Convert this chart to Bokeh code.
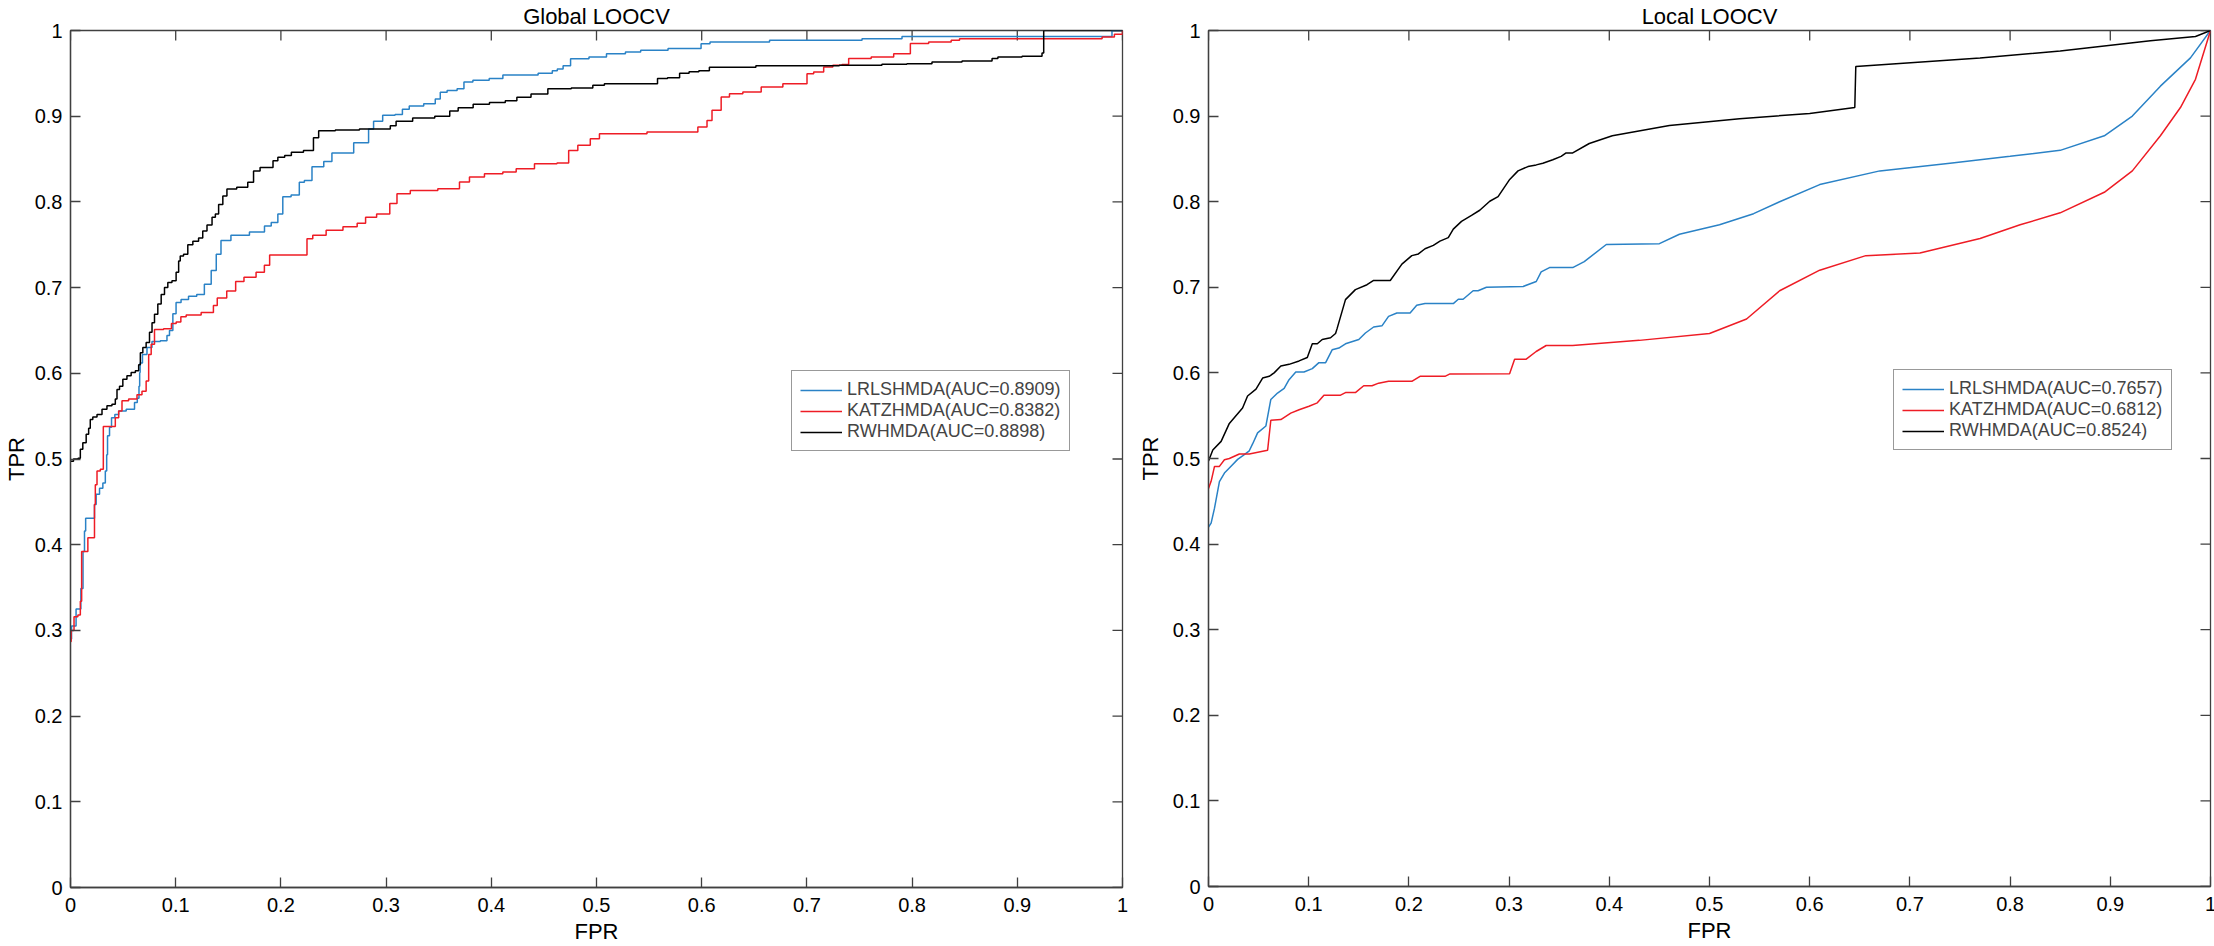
from bokeh.plotting import figure
from bokeh.models import Range1d, LinearAxis, FixedTicker, Legend, LegendItem
from bokeh.layouts import row
from bokeh.embed import file_html
from bokeh.resources import INLINE

# ---------------- data ----------------
TICKS = [0, 0.1, 0.2, 0.3, 0.4, 0.5, 0.6, 0.7, 0.8, 0.9, 1]
TICK_LABELS = ["0", "0.1", "0.2", "0.3", "0.4", "0.5", "0.6", "0.7", "0.8", "0.9", "1"]
TITLES = ["Global LOOCV", "Local LOOCV"]
X_LABEL = "FPR"
Y_LABEL = "TPR"
METHODS = ["LRLSHMDA", "KATZHMDA", "RWHMDA"]
GLOBAL_AUC = ["0.8909", "0.8382", "0.8898"]
LOCAL_AUC = ["0.7657", "0.6812", "0.8524"]

# Global LOOCV
g_lrls_fpr = [0, 0.002, 0.0086, 0.0111, 0.0127, 0.0139, 0.0149, 0.0228, 0.0228, 0.026, 0.0292, 0.0323, 0.0339, 0.0349,
              0.0355, 0.0387, 0.0393, 0.045, 0.0466, 0.0593, 0.0624, 0.0646, 0.0656, 0.0659, 0.0665, 0.0703, 0.0751,
              0.0798, 0.0909, 0.0925, 0.0957, 0.0989, 0.1018, 0.1084, 0.116, 0.124, 0.1305, 0.137, 0.1401, 0.146,
              0.159, 0.1812, 0.1876, 0.194, 0.2002, 0.2034, 0.216, 0.219, 0.2256, 0.2335, 0.248, 0.249, 0.2684,
              0.270, 0.281, 0.2857, 0.2905, 0.303, 0.314, 0.317, 0.327, 0.3445, 0.349, 0.354, 0.362, 0.373, 0.375,
              0.390, 0.406, 0.416, 0.432, 0.457, 0.459, 0.4665, 0.470, 0.4807, 0.505, 0.514, 0.541, 0.543, 0.593,
              0.6058, 0.610, 0.663, 0.666, 0.7516, 0.7532, 0.7896, 0.7912, 0.98, 1.0]
g_lrls_tpr = [0.29, 0.305, 0.325, 0.349, 0.392, 0.416, 0.431, 0.431, 0.447, 0.459, 0.466, 0.472, 0.486, 0.505,
              0.527, 0.537, 0.548, 0.552, 0.556, 0.558, 0.566, 0.571, 0.585, 0.601, 0.612, 0.622, 0.630,
              0.637, 0.638, 0.644, 0.650, 0.6695, 0.6825, 0.686, 0.690, 0.692, 0.704, 0.720, 0.739, 0.755,
              0.761, 0.765, 0.772, 0.776, 0.786, 0.806, 0.808, 0.823, 0.825, 0.841, 0.847, 0.857, 0.857,
              0.869, 0.869, 0.885, 0.894, 0.901, 0.902, 0.908, 0.912, 0.9145, 0.920, 0.928, 0.930, 0.932, 0.940,
              0.942, 0.944, 0.948, 0.948, 0.950, 0.953, 0.955, 0.959, 0.967, 0.969, 0.973, 0.975, 0.977, 0.979,
              0.9845, 0.9865, 0.9865, 0.9885, 0.9885, 0.9905, 0.9905, 0.993, 0.993, 1.0]

g_katz_fpr = [0, 0.0013, 0.0054, 0.0086, 0.0101, 0.0111, 0.0165, 0.0165, 0.0228, 0.0228, 0.0244, 0.026, 0.0307,
              0.0317, 0.0418, 0.0434, 0.0482, 0.0497, 0.0608, 0.0656, 0.0703, 0.0735, 0.0751, 0.0783, 0.0814,
              0.0956, 0.0963, 0.1046, 0.1052, 0.1147, 0.1337, 0.138, 0.141, 0.156, 0.158, 0.1718, 0.181, 0.1876,
              0.191, 0.2240, 0.2256, 0.235, 0.2510, 0.267, 0.278, 0.283, 0.299, 0.308, 0.3127, 0.3333, 0.365,
              0.3745, 0.384, 0.403, 0.4189, 0.4284, 0.4537, 0.4712, 0.4759, 0.4886, 0.4996, 0.506, 0.590, 0.6027,
              0.6074, 0.6122, 0.6248, 0.628, 0.6502, 0.6629, 0.6914, 0.6977, 0.7025, 0.7104, 0.7215, 0.7278,
              0.7389, 0.7405, 0.7817, 0.7833, 0.796, 0.8007, 0.8308, 0.8435, 0.8467, 0.9766, 0.9846, 1.0, 1.0]
g_katz_tpr = [0.287, 0.300, 0.316, 0.318, 0.334, 0.392, 0.392, 0.408, 0.408, 0.447, 0.470, 0.486, 0.488,
              0.538, 0.538, 0.548, 0.556, 0.568, 0.570, 0.575, 0.579, 0.591, 0.622, 0.634, 0.651,
              0.652, 0.658, 0.660, 0.666, 0.668, 0.671, 0.679, 0.688, 0.696, 0.707, 0.712, 0.718, 0.726,
              0.738, 0.738, 0.757, 0.761, 0.767, 0.771, 0.775, 0.782, 0.786, 0.798, 0.8095, 0.8134, 0.8153,
              0.8231, 0.829, 0.8328, 0.8348, 0.8387, 0.8445, 0.8453, 0.8601, 0.866, 0.8737, 0.8796, 0.8815, 0.8873,
              0.8951, 0.9068, 0.9223, 0.9262, 0.9282, 0.934, 0.9379, 0.938, 0.9496, 0.9516, 0.9574, 0.9594,
              0.9602, 0.9672, 0.9691, 0.973, 0.973, 0.9847, 0.9866, 0.9886, 0.9905, 0.9905, 0.9925, 0.9956, 1.0]

g_rw_fpr = [0, 0.0057, 0.0086, 0.0101, 0.0133, 0.0165, 0.018, 0.0196, 0.0228, 0.0276, 0.0323, 0.037, 0.0418,
            0.0434, 0.045, 0.0482, 0.0513, 0.056, 0.0593, 0.064, 0.0656, 0.0672, 0.0703, 0.0735, 0.0767, 0.0783,
            0.0814, 0.0846, 0.0878, 0.0909, 0.0941, 0.0988, 0.102, 0.1036, 0.105, 0.1099, 0.1131, 0.1195, 0.124,
            0.1274, 0.1321, 0.137, 0.1384, 0.1432, 0.1464, 0.151, 0.165, 0.172, 0.176, 0.1844, 0.191, 0.194,
            0.2002, 0.207, 0.2129, 0.2300, 0.2319, 0.2399, 0.2636, 0.2857, 0.303, 0.305, 0.314, 0.3365, 0.356,
            0.365, 0.372, 0.3935, 0.403, 0.4236, 0.425, 0.4505, 0.457, 0.495, 0.498, 0.517, 0.555, 0.561, 0.574,
            0.584, 0.592, 0.6026, 0.612, 0.691, 0.7706, 0.772, 0.8181, 0.8197, 0.8752, 0.8768, 0.8863, 0.9227,
            0.9243, 0.9259, 1.0]
g_rw_tpr = [0.4975, 0.500, 0.501, 0.5113, 0.519, 0.529, 0.536, 0.546, 0.549, 0.552, 0.558, 0.562, 0.564,
            0.570, 0.581, 0.585, 0.593, 0.597, 0.601, 0.603, 0.610, 0.624, 0.630, 0.636, 0.648, 0.659,
            0.669, 0.681, 0.692, 0.700, 0.706, 0.708, 0.718, 0.731, 0.737, 0.739, 0.750, 0.754, 0.758,
            0.766, 0.773, 0.782, 0.786, 0.797, 0.807, 0.815, 0.817, 0.823, 0.836, 0.840, 0.840, 0.848,
            0.852, 0.854, 0.858, 0.860, 0.875, 0.883, 0.884, 0.885, 0.885, 0.889, 0.894, 0.898, 0.900,
            0.906, 0.910, 0.914, 0.916, 0.918, 0.922, 0.926, 0.932, 0.933, 0.936, 0.938, 0.938, 0.944, 0.945,
            0.950, 0.952, 0.953, 0.957, 0.959, 0.9594, 0.9606, 0.9613, 0.9633, 0.9645, 0.9672, 0.9691, 0.9699,
            0.9738, 1.0, 1.0]

# Local LOOCV
l_lrls_fpr = [0, 0.0026, 0.006, 0.0109, 0.0159, 0.0225, 0.0291, 0.034, 0.0407, 0.044, 0.049, 0.0573, 0.0622,
              0.0689, 0.0755, 0.0804, 0.0871, 0.0953, 0.1036, 0.1102, 0.1169, 0.1234, 0.1301, 0.1367, 0.150,
              0.1566, 0.1648, 0.1731, 0.1797, 0.188, 0.2012, 0.2078, 0.2161, 0.2443, 0.2493, 0.2541, 0.2641,
              0.269, 0.2774, 0.314, 0.3271, 0.332, 0.3403, 0.3635, 0.375, 0.397, 0.45, 0.47, 0.51, 0.544,
              0.57, 0.61, 0.67, 0.74, 0.80, 0.85, 0.894, 0.922, 0.95, 0.98, 1.0]
l_lrls_tpr = [0.42, 0.4246, 0.442, 0.473, 0.483, 0.491, 0.499, 0.503, 0.509, 0.517, 0.530, 0.538, 0.569,
              0.5765, 0.582, 0.592, 0.601, 0.601, 0.605, 0.612, 0.612, 0.627, 0.629, 0.634, 0.639,
              0.6466, 0.6536, 0.655, 0.666, 0.670, 0.670, 0.679, 0.681, 0.681, 0.686, 0.686, 0.696,
              0.696, 0.700, 0.701, 0.7068, 0.718, 0.723, 0.723, 0.730, 0.750, 0.751, 0.762, 0.773, 0.786,
              0.800, 0.820, 0.836, 0.845, 0.853, 0.860, 0.877, 0.900, 0.935, 0.968, 1.0]

l_katz_fpr = [0, 0.0026, 0.006, 0.0109, 0.0159, 0.0208, 0.0308, 0.0407, 0.059, 0.0622, 0.0722, 0.0821, 0.0904,
              0.1003, 0.1086, 0.1152, 0.1318, 0.1367, 0.1466, 0.1549, 0.1632, 0.1698, 0.1797, 0.2029, 0.2111,
              0.236, 0.241, 0.3005, 0.3055, 0.3171, 0.327, 0.337, 0.3634, 0.43, 0.50, 0.537, 0.57, 0.61, 0.656,
              0.71, 0.77, 0.81, 0.85, 0.894, 0.922, 0.95, 0.97, 0.985, 1.0]
l_katz_tpr = [0.465, 0.4733, 0.4908, 0.4908, 0.4986, 0.500, 0.5053, 0.5053, 0.5096, 0.5447, 0.5455, 0.553, 0.557,
              0.561, 0.565, 0.574, 0.574, 0.577, 0.577, 0.585, 0.585, 0.588, 0.5902, 0.5902, 0.596,
              0.596, 0.5988, 0.599, 0.616, 0.616, 0.625, 0.632, 0.632, 0.638, 0.646, 0.663, 0.696, 0.720, 0.737,
              0.740, 0.757, 0.773, 0.787, 0.811, 0.836, 0.877, 0.910, 0.943, 1.0]

l_rw_fpr = [0, 0.0043, 0.0126, 0.0208, 0.034, 0.039, 0.0474, 0.054, 0.0606, 0.0655, 0.0722, 0.0804, 0.0904,
            0.0986, 0.1036, 0.1086, 0.1135, 0.1218, 0.1268, 0.1284, 0.1367, 0.1466, 0.1582, 0.1648, 0.1814,
            0.193, 0.2029, 0.2095, 0.2161, 0.2244, 0.231, 0.2393, 0.2443, 0.2525, 0.2625, 0.2707, 0.2807, 0.289,
            0.3006, 0.3089, 0.3188, 0.3271, 0.3337, 0.3436, 0.3519, 0.3569, 0.3635, 0.38, 0.403, 0.46,
            0.53, 0.60, 0.645, 0.646, 0.77, 0.85, 0.94, 0.985, 1.0]
l_rw_tpr = [0.497, 0.510, 0.520, 0.541, 0.559, 0.573, 0.581, 0.594, 0.596, 0.600, 0.608, 0.610, 0.614,
            0.618, 0.634, 0.634, 0.639, 0.641, 0.646, 0.652, 0.6856, 0.6973, 0.703, 0.708, 0.708,
            0.727, 0.737, 0.739, 0.745, 0.749, 0.754, 0.758, 0.768, 0.777, 0.784, 0.790, 0.8005, 0.806,
            0.826, 0.836, 0.841, 0.843, 0.845, 0.849, 0.853, 0.857, 0.857, 0.868, 0.877, 0.889,
            0.897, 0.903, 0.910, 0.958, 0.968, 0.976, 0.988, 0.993, 1.0]

GLOBAL_CURVES = [(g_lrls_fpr, g_lrls_tpr), (g_katz_fpr, g_katz_tpr), (g_rw_fpr, g_rw_tpr)]
LOCAL_CURVES = [(l_lrls_fpr, l_lrls_tpr), (l_katz_fpr, l_katz_tpr), (l_rw_fpr, l_rw_tpr)]

# ---------------- style ----------------
COLORS = ["#2a82c6", "#ee1c25", "#000000"]
FONT = "Liberation Sans"
AXIS_COLOR = "#404040"
TICK_LEN = 10


def style_main_axis(ax, label, label_standoff, tick_standoff):
    ax.ticker = FixedTicker(ticks=TICKS)
    ax.major_label_overrides = {t: s for t, s in zip(TICKS, TICK_LABELS)}
    ax.major_tick_in = TICK_LEN
    ax.major_tick_out = 0
    ax.minor_tick_line_color = None
    ax.axis_line_color = AXIS_COLOR
    ax.axis_line_width = 1.3
    ax.major_tick_line_color = AXIS_COLOR
    ax.major_tick_line_width = 1.3
    ax.major_label_text_font = FONT
    ax.major_label_text_font_size = "20px"
    ax.major_label_text_color = "#000000"
    ax.major_label_standoff = tick_standoff
    ax.axis_label = label
    ax.axis_label_text_font = FONT
    ax.axis_label_text_font_size = "22px"
    ax.axis_label_text_font_style = "normal"
    ax.axis_label_text_color = "#000000"
    ax.axis_label_standoff = label_standoff


def make_panel(title, curves, aucs, fw, fh, bl, br, bt, bb, legend_xy, ylab_standoff, stepped):
    p = figure(width=bl + fw + br, height=bt + fh + bb, frame_width=fw, frame_height=fh,
               x_range=Range1d(0, 1), y_range=Range1d(0, 1),
               min_border_left=bl, min_border_right=br, min_border_top=bt, min_border_bottom=bb,
               output_backend="svg", toolbar_location=None)
    p.grid.visible = False
    p.outline_line_color = AXIS_COLOR
    p.outline_line_width = 1.3
    p.background_fill_color = "white"
    p.border_fill_color = "white"
    style_main_axis(p.xaxis[0], X_LABEL, 4, 10)
    style_main_axis(p.yaxis[0], Y_LABEL, ylab_standoff, 8)

    # title carried by an unticked top axis
    top = LinearAxis(ticker=FixedTicker(ticks=[]))
    top.axis_line_color = None
    top.major_tick_line_color = None
    top.minor_tick_line_color = None
    top.major_label_standoff = 0
    top.axis_label = title
    top.axis_label_text_font = FONT
    top.axis_label_text_font_size = "22px"
    top.axis_label_text_font_style = "normal"
    top.axis_label_text_color = "#000000"
    top.axis_label_standoff = 2
    p.add_layout(top, "above")

    # inward ticks on the top and right edges (box on)
    n = len(TICKS)
    dy = TICK_LEN / fh
    dx = TICK_LEN / fw
    p.segment(x0=TICKS, y0=[1.0] * n, x1=TICKS, y1=[1.0 - dy] * n,
              line_color=AXIS_COLOR, line_width=1.3)
    p.segment(x0=[1.0] * n, y0=TICKS, x1=[1.0 - dx] * n, y1=TICKS,
              line_color=AXIS_COLOR, line_width=1.3)

    items = []
    for (xs, ys), name, auc, col in zip(curves, METHODS, aucs, COLORS):
        if stepped:
            r = p.step(x=xs, y=ys, mode="center", line_color=col, line_width=1.5)
        else:
            r = p.line(x=xs, y=ys, line_color=col, line_width=1.5)
        items.append(LegendItem(label=f"{name}(AUC={auc})", renderers=[r]))

    leg = Legend(items=items, location=legend_xy)
    leg.label_text_font = FONT
    leg.label_text_font_size = "18px"
    leg.label_height = 20
    leg.glyph_height = 20
    leg.glyph_width = 42
    leg.label_standoff = 5
    leg.padding = 8
    leg.spacing = 0
    leg.margin = 0
    leg.border_line_color = "#333333"
    leg.border_line_width = 1
    leg.background_fill_color = "white"
    leg.background_fill_alpha = 1.0
    p.add_layout(leg)
    return p


p1 = make_panel(TITLES[0], GLOBAL_CURVES, GLOBAL_AUC, 1052, 857, 66, 12, 27, 62, (721, 436), 3, True)
p2 = make_panel(TITLES[1], LOCAL_CURVES, LOCAL_AUC, 1002, 856, 74, 8, 29, 61, (685, 436), 7, False)

layout = row(p1, p2)
open("out.html", "w").write(file_html(layout, INLINE))
